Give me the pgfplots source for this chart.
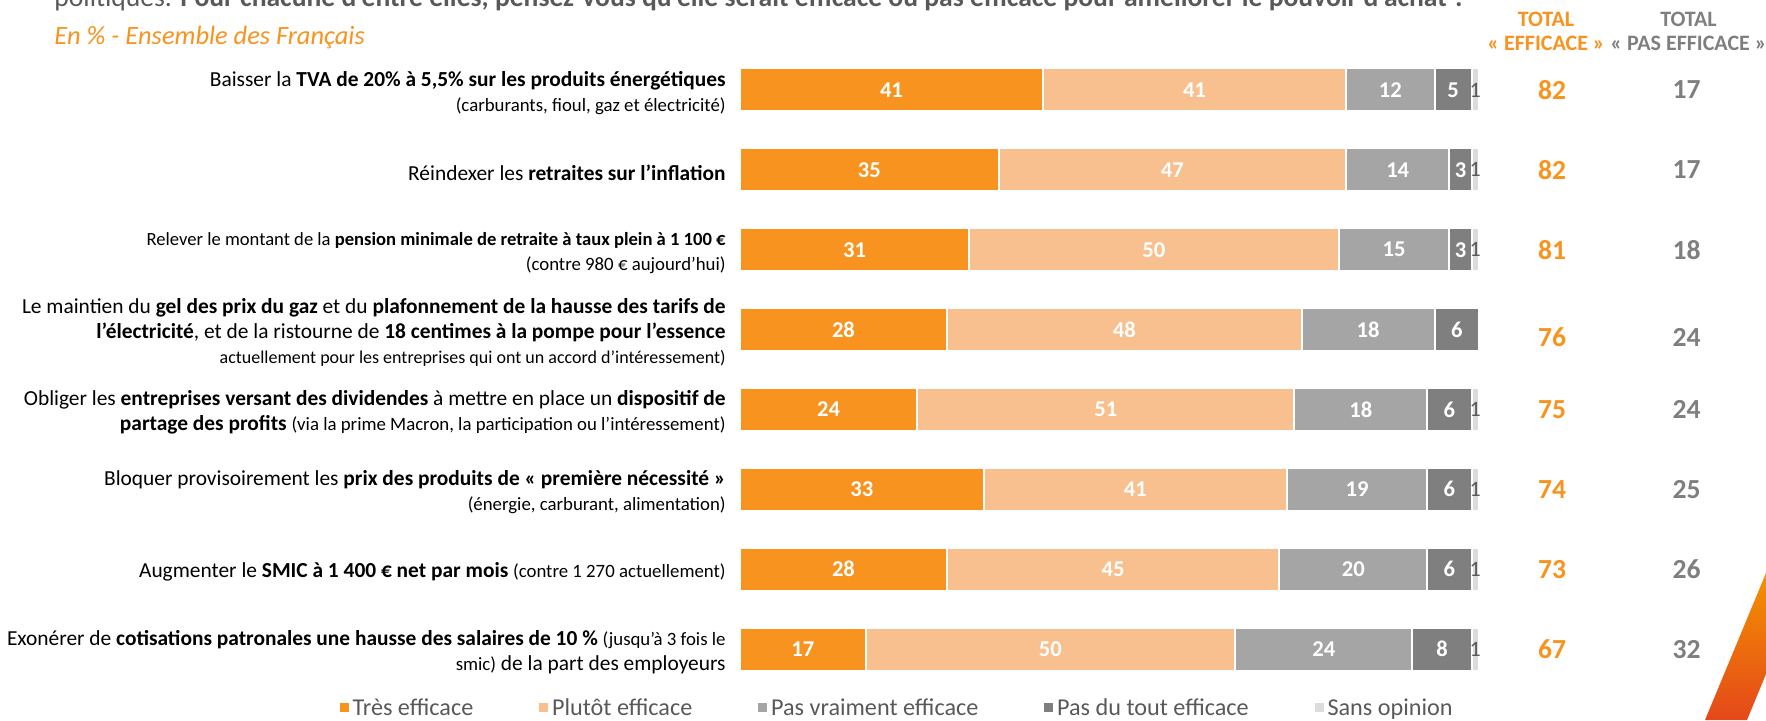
\documentclass[border=0pt]{standalone}
\usepackage{pgfplots}
\pgfplotsset{compat=1.18}
\usepackage{pgfplotstable}
\usepackage{fontspec}
\setmainfont{Carlito}
\definecolor{c1}{HTML}{F7931E}
\definecolor{c2}{HTML}{F9C08F}
\definecolor{c3}{HTML}{A5A5A5}
\definecolor{c4}{HTML}{7F7F7F}
\definecolor{c5}{HTML}{DCDCDC}
\definecolor{txt}{HTML}{595959}
\definecolor{otxt}{HTML}{F7931E}
\definecolor{gtxt}{HTML}{7F7F7F}
\newcommand\sm{\fontsize{9.4}{11}\selectfont}

\pgfplotstableread{
row te pe pv pt so tote totp ty
0 41 41 12 5 1 82 17 0
1 35 47 14 3 1 82 17 1
2 31 50 15 3 1 81 18 2
3 28 48 18 6 0 76 24 3.1
4 24 51 18 6 1 75 24 4
5 33 41 19 6 1 74 25 5
6 28 45 20 6 1 73 26 6
7 17 50 24 8 1 67 32 7
}\data

\begin{document}
\begin{tikzpicture}[x=1pt,y=1pt]
\useasboundingbox (0,0) rectangle (883,360);
\node[anchor=base west, inner sep=0, text=txt, font=\fontsize{13.8}{16}\selectfont] at (27,357) {politiques. \textbf{Pour chacune d'entre elles, pensez-vous qu'elle serait efficace ou pas efficace pour améliorer le pouvoir d'achat ?}};
\node[anchor=base west, inner sep=0, text=otxt, font=\fontsize{13.2}{15}\selectfont\itshape] at (27,338) {En \% - Ensemble des Français};
\node[anchor=center, inner sep=0, text=otxt, font=\bfseries\fontsize{11}{13}\selectfont] at (773,350.5) {TOTAL};
\node[anchor=center, inner sep=0, text=otxt, font=\bfseries\fontsize{11}{13}\selectfont] at (773,338.5) {« EFFICACE »};
\node[anchor=center, inner sep=0, text=gtxt, font=\bfseries\fontsize{11}{13}\selectfont] at (844.25,350.5) {TOTAL};
\node[anchor=center, inner sep=0, text=gtxt, font=\bfseries\fontsize{11}{13}\selectfont] at (844.25,338.5) {« PAS EFFICACE »};

\begin{axis}[at={(370pt,335pt)}, anchor=north west, scale only axis,
  width=369.5pt, height=319.5pt, xmin=0, xmax=100, ymin=-0.5, ymax=7.5,
  y dir=reverse, xbar stacked, bar width=21.5pt, clip=false,
  axis line style={draw=none}, xtick=\empty, ytick={0,...,7},
  major tick length=0pt,
  yticklabel style={align=right, anchor=east, inner sep=0pt, xshift=-7pt, yshift=-1.5pt, text=black, font=\fontsize{10.7}{12.6}\selectfont},
  yticklabels={
   {Baisser la \textbf{TVA de 20\% à 5,5\% sur les produits énergétiques}\\{\sm (carburants, fioul, gaz et électricité)}},
   {Réindexer les \textbf{retraites sur l'inflation}},
   {{\fontsize{9.3}{12.6}\selectfont Relever le montant de la \textbf{pension minimale de retraite à taux plein à 1 100 €}}\\{\sm (contre 980 € aujourd'hui)}},
   {Le maintien du \textbf{gel des prix du gaz} et du \textbf{plafonnement de la hausse des tarifs de}\\\textbf{l'électricité}, et de la ristourne de \textbf{18 centimes à la pompe pour l'essence}\\{\fontsize{9}{12.6}\selectfont actuellement pour les entreprises qui ont un accord d'intéressement)}},
   {Obliger les \textbf{entreprises versant des dividendes} à mettre en place un \textbf{dispositif de}\\\textbf{partage des profits} {\sm (via la prime Macron, la participation ou l'intéressement)}},
   {Bloquer provisoirement les \textbf{prix des produits de « première nécessité »}\\{\sm (énergie, carburant, alimentation)}},
   {Augmenter le \textbf{SMIC à 1 400 € net par mois} {\sm (contre 1 270 actuellement)}},
   {Exonérer de \textbf{cotisations patronales une hausse des salaires de 10 \%} {\sm (jusqu'à 3 fois le}\\{\sm smic)} de la part des employeurs}
  },
  legend style={at={(axis description cs:-0.5502,-0.03)}, anchor=west, draw=none, fill=none,
    legend columns=5, font=\fontsize{12.1}{14}\selectfont, text=txt,
    /tikz/every even column/.append style={column sep=31pt}},
  legend image code/.code={\fill[#1,draw=none] (0pt,-2.0pt) rectangle (4.4pt,2.4pt);},
  nodes near coords={\ifnum\pgfplotspointmeta=0 \else\pgfplotspointmeta\fi},
  point meta=explicit symbolic,
]
\addplot[fill=c1, draw=white, line width=1pt,
  every node near coord/.append style={anchor=center, text=white, font=\bfseries\fontsize{11.3}{12}\selectfont}]
  table[x=te, y=row, meta=te] {\data};
\addlegendentry{Très efficace}
\addplot[fill=c2, draw=white, line width=1pt,
  every node near coord/.append style={anchor=center, text=white, font=\bfseries\fontsize{11.3}{12}\selectfont}]
  table[x=pe, y=row, meta=pe] {\data};
\addlegendentry{Plutôt efficace}
\addplot[fill=c3, draw=white, line width=1pt,
  every node near coord/.append style={anchor=center, text=white, font=\bfseries\fontsize{11.3}{12}\selectfont}]
  table[x=pv, y=row, meta=pv] {\data};
\addlegendentry{Pas vraiment efficace}
\addplot[fill=c4, draw=white, line width=1pt,
  every node near coord/.append style={anchor=center, text=white, font=\bfseries\fontsize{11.3}{12}\selectfont}]
  table[x=pt, y=row, meta=pt] {\data};
\addlegendentry{Pas du tout efficace}
\addplot[fill=c5, draw=white, line width=1pt,
  every node near coord/.append style={anchor=center, text=txt, font=\fontsize{11}{12}\selectfont}]
  table[x=so, y=row, meta=so] {\data};
\addlegendentry{Sans opinion}
\end{axis}

\begin{axis}[at={(370pt,335pt)}, anchor=north west, scale only axis,
  width=369.5pt, height=319.5pt, xmin=0, xmax=100, ymin=-0.5, ymax=7.5,
  y dir=reverse, hide axis, clip=false, point meta=explicit symbolic, nodes near coords]
\addplot[only marks, mark=none, every node near coord/.append style={anchor=center, text=otxt, font=\bfseries\fontsize{13.8}{16}\selectfont}]
  table[x expr=109.9, y=ty, meta=tote] {\data};
\addplot[only marks, mark=none, every node near coord/.append style={anchor=center, text=gtxt, font=\bfseries\fontsize{13.8}{16}\selectfont}]
  table[x expr=128.1, y=ty, meta=totp] {\data};
\end{axis}

\shade[bottom color={rgb,255:red,229;green,72;blue,26}, top color={rgb,255:red,243;green,146;blue,0}]
  (852.5,0) -- (873.5,0) -- (883,23) -- (883,73.5) -- cycle;
\end{tikzpicture}
\end{document}
